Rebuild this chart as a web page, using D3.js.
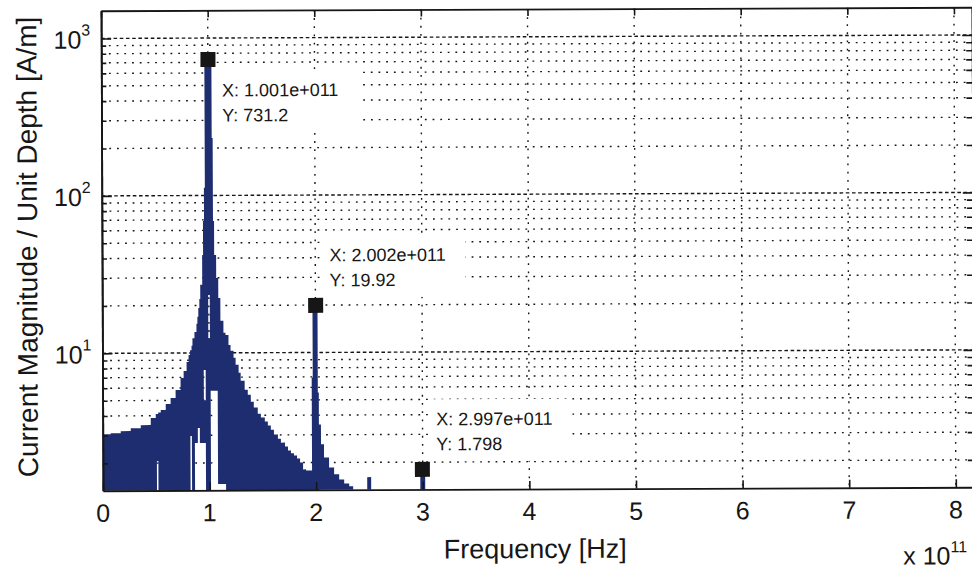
<!DOCTYPE html>
<html><head><meta charset="utf-8">
<script src="https://cdn.jsdelivr.net/npm/d3@7"></script>
<style>html,body{margin:0;padding:0;background:#fff;} svg{display:block;font-family:"Liberation Sans",Arial,Helvetica,sans-serif;}</style>
</head><body>
<svg id="chart" width="972" height="571"></svg>
<script>
// ---- data (frequency in units of 1e11 Hz, magnitude in A/m) ----
// left edge of each spectrum bin
const binStart = [0.000,0.075,0.169,0.263,0.357,0.451,0.498,0.507,0.521,0.545,
  0.592,0.638,0.685,0.732,0.761,0.789,0.808,0.822,0.836,0.845,
  0.864,0.883,0.892,0.901,0.911,0.920,0.939,0.948,0.958,0.967,
  1.014,1.033,1.042,1.052,1.070,1.080,1.089,1.108,1.136,1.155,
  1.183,1.202,1.230,1.249,1.277,1.296,1.333,1.362,1.390,1.418,
  1.455,1.484,1.521,1.549,1.577,1.606,1.643,1.671,1.709,1.737,
  1.765,1.793,1.822,1.850,1.878,1.906,1.962,1.972,2.019,2.028,
  2.047,2.075,2.122,2.169,2.216,2.263,2.310,2.347,2.479,2.516,
  2.977,3.023,8.170];
// highest magnitude reached in each bin
const binTop = [3.06,3.10,3.20,3.34,3.49,3.87,4.10,4.10,4.20,4.35,
  4.74,5.18,5.82,6.93,7.69,8.77,9.71,10.4,11.1,12.4,
  13.6,15.3,17.0,19.3,22.0,27.1,41.9,68.9,112,731.2,
  731.2,232,68.9,41.9,29.9,29.9,22.3,16.0,13.4,13.0,
  11.2,10.3,9.3,8.39,7.46,6.64,5.82,5.41,4.89,4.48,
  4.10,3.87,3.65,3.44,3.24,3.02,2.84,2.68,2.53,2.39,
  2.29,2.22,2.12,2.00,1.81,1.78,6.93,19.92,5.57,3.49,
  2.61,2.15,1.86,1.68,1.56,1.47,1.41,1.0,1.61,1.0,
  1.798,1.0,1.0];
// lowest magnitude reached in each bin (0 = reaches the axis)
const binFloor = [0,0,0,0,0,0,0,2.06,0,0,
  0,0,0,0,0,0,0,2.97,0,0,
  2.68,2.68,3.34,3.34,2.68,2.68,2.68,2.68,2.68,0,
  5.74,5.74,5.74,5.74,5.74,1.47,1.47,1.47,1.47,0,
  0,0,0,0,0,0,0,0,0,0,
  0,0,0,0,0,0,0,0,0,0,
  0,0,0,0,0,0,0,0,0,0,
  0,0,0,0,0,0,0,0,0,0,
  0,0,0];
// small empty pockets inside the filled spectrum
const holeStart = [0.994, 0.950];
const holeEnd   = [1.009, 0.968];
const holeLow   = [12.4, 5.0];
const holeHigh  = [23.3, 7.8];

const xTicks = [0,1,2,3,4,5,6,7,8];
const xTickLabels = ["0","1","2","3","4","5","6","7","8"];
const yMajor = [10,100,1000];
const yMajorExp = ["1","2","3"];
const yMinor = [2,3,4,5,6,7,8,9,20,30,40,50,60,70,80,90,200,300,400,500,600,700,800,900];

const tipFreq = [1.001, 2.002, 2.997];
const tipMag  = [731.2, 19.92, 1.798];
const tipXText = ["1.001e+011","2.002e+011","2.997e+011"];
const tipYText = ["731.2","19.92","1.798"];

// ---- layout ----
const L = 102, R = 973, T = 9, B = 489;
const tipBelow = [true, false, false];
const ink = "#161616", fillBlue = "#1d2d70";

const x = d3.scaleLinear().domain([0, 8.17]).range([L, R]);
const y = d3.scaleLog().domain([1.34, 1500]).range([B, T]).clamp(true);

const svg = d3.select("#chart");
const defs = svg.append("defs");
defs.append("clipPath").attr("id","plotclip").append("rect")
  .attr("x", L).attr("y", T).attr("width", R - L).attr("height", B - T);
const mask = defs.append("mask").attr("id","holemask").attr("maskUnits","userSpaceOnUse")
  .attr("x",0).attr("y",0).attr("width",972).attr("height",571);
mask.append("rect").attr("x",0).attr("y",0).attr("width",972).attr("height",571).attr("fill","#fff");
holeStart.forEach((f,i)=>{
  mask.append("rect").attr("x", x(f)).attr("width", x(holeEnd[i]) - x(f))
    .attr("y", y(holeHigh[i])).attr("height", y(holeLow[i]) - y(holeHigh[i])).attr("fill","#000");
});

const g = svg.append("g").attr("transform","rotate(-0.23 537 249)");

// grid
const grid = g.append("g").attr("clip-path","url(#plotclip)").attr("stroke", ink).attr("stroke-width",1.4);
grid.selectAll(".gmin").data(yMinor).join("line")
  .attr("x1", L).attr("x2", R).attr("y1", d=>y(d)).attr("y2", d=>y(d))
  .attr("stroke-dasharray","1.8 5.9");
grid.selectAll(".gmaj").data(yMajor).join("line")
  .attr("x1", L).attr("x2", R).attr("y1", d=>y(d)).attr("y2", d=>y(d))
  .attr("stroke-dasharray","3.6 2.6");
grid.selectAll(".gv").data(xTicks.filter(d=>d>0)).join("line")
  .attr("x1", d=>x(d)).attr("x2", d=>x(d)).attr("y1", T).attr("y2", B)
  .attr("stroke-dasharray","1.8 6.4");

// spectrum
const pts = binStart.map((f,i)=>({f, top: binTop[i], floor: binFloor[i]}));
const area = d3.area()
  .x(d=>x(d.f))
  .y0(d=> d.floor > 0 ? y(d.floor) : B)
  .y1(d=> y(d.top))
  .curve(d3.curveStepAfter);
g.append("g").attr("clip-path","url(#plotclip)")
  .append("path").datum(pts).attr("d", area)
  .attr("fill", fillBlue).attr("mask","url(#holemask)");

// axes
function styleAxis(sel){
  sel.selectAll("path.domain").attr("stroke", ink).attr("stroke-width", 1.8);
  sel.selectAll(".tick line").attr("stroke", ink).attr("stroke-width", 1.6);
  sel.selectAll(".tick text").remove();
}
const ax = g.append("g");
ax.append("g").attr("transform",`translate(0,${B})`)
  .call(d3.axisBottom(x).tickValues(xTicks).tickSize(-8).tickSizeOuter(0)).call(styleAxis);
ax.append("g").attr("transform",`translate(0,${T})`)
  .call(d3.axisTop(x).tickValues(xTicks).tickSize(-7).tickSizeOuter(0)).call(styleAxis);
ax.append("g").attr("transform",`translate(${L},0)`)
  .call(d3.axisLeft(y).tickValues(yMajor).tickSize(-10).tickSizeOuter(0)).call(styleAxis);
ax.append("g").attr("transform",`translate(${L},0)`)
  .call(d3.axisLeft(y).tickValues(yMinor).tickSize(-5).tickSizeOuter(0)).call(styleAxis);
ax.append("g").attr("transform",`translate(${R},0)`)
  .call(d3.axisRight(y).tickValues(yMajor).tickSize(-10).tickSizeOuter(0)).call(styleAxis);
ax.append("g").attr("transform",`translate(${R},0)`)
  .call(d3.axisRight(y).tickValues(yMinor).tickSize(-6).tickSizeOuter(0)).call(styleAxis);

// tick labels
const lab = g.append("g").attr("fill", ink);
lab.selectAll(".xl").data(xTicks).join("text")
  .attr("x", d=>x(d)).attr("y", B + 31).attr("text-anchor","middle")
  .attr("font-size", 25).text((d,i)=>xTickLabels[i]);
yMajor.forEach((v,i)=>{
  const t = lab.append("text").attr("x", L - 11).attr("y", y(v) + 10)
    .attr("text-anchor","end").attr("font-size", 25);
  t.append("tspan").text("10");
  t.append("tspan").attr("dy", -13).attr("font-size", 16).text(yMajorExp[i]);
});
// axis labels
lab.append("text").attr("x", 534).attr("y", 558).attr("text-anchor","middle")
  .attr("font-size", 27).text("Frequency [Hz]");
lab.append("text").attr("transform","translate(37,245) rotate(-90)")
  .attr("text-anchor","middle").attr("font-size", 28)
  .text("Current Magnitude / Unit Depth [A/m]");
const ex = lab.append("text").attr("x", 902).attr("y", 566).attr("font-size", 25);
ex.append("tspan").text("x 10");
ex.append("tspan").attr("dy", -12).attr("font-size", 16).text("11");

// data tips
const tips = g.append("g");
tipFreq.forEach((f,i)=>{
  const mx = x(f), my = y(tipMag[i]);
  const bx = mx + 7, by = tipBelow[i] ? my + 11 : my - 70;
  tips.append("rect").attr("x", bx).attr("y", by).attr("width", 143).attr("height", 62)
    .attr("fill","#fff");
  tips.append("rect").attr("x", mx - 7.5).attr("y", my - 7.5).attr("width", 15).attr("height", 15)
    .attr("fill", ink);
  tips.append("text").attr("x", mx + 14).attr("y", by + 26).attr("font-size", 18)
    .attr("fill", ink).text("X: " + tipXText[i]);
  tips.append("text").attr("x", mx + 14).attr("y", by + 51).attr("font-size", 18)
    .attr("fill", ink).text("Y: " + tipYText[i]);
});
</script>
</body></html>
